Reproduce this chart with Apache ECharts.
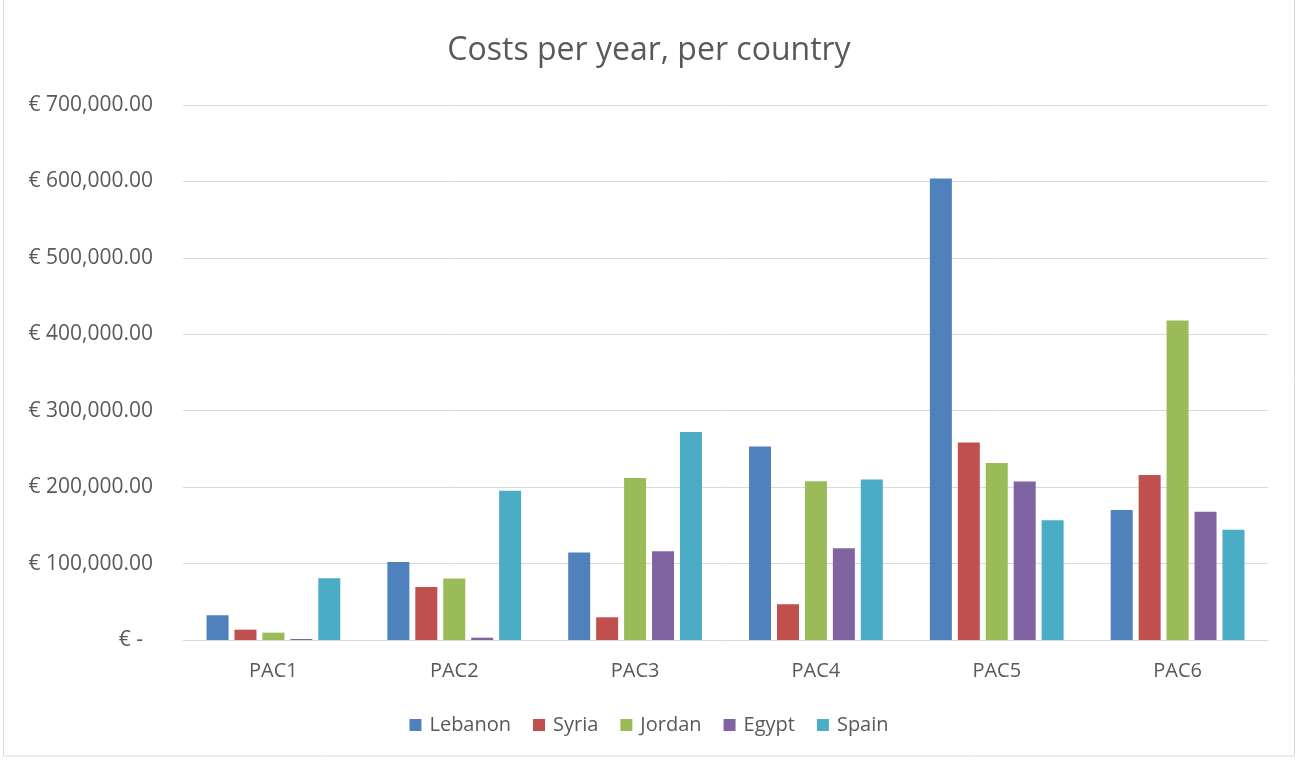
<!DOCTYPE html>
<html><head><meta charset="utf-8">
<script src="https://cdn.jsdelivr.net/npm/echarts@6/dist/echarts.min.js"></script>
<style>html,body{margin:0;padding:0;background:#fff}#c{width:1298px;height:761px}</style>
</head><body><div id="c"></div>
<script>
const categories = ['PAC1','PAC2','PAC3','PAC4','PAC5','PAC6'];
const lebanon = [32400, 102200, 114400, 253300, 603800, 170000];
const syria   = [13500, 69500, 29700, 46800, 258500, 215800];
const jordan  = [9600, 80400, 211800, 207800, 231500, 418000];
const egypt   = [1300, 3000, 116200, 120000, 207400, 167700];
const spain   = [80900, 195300, 272000, 209900, 156800, 144200];
const seriesNames = ['Lebanon','Syria','Jordan','Egypt','Spain'];
const colors = ['#4f81bd','#c0504d','#9bbb59','#8064a2','#4bacc6'];
const FONT = '"Open Sans", sans-serif';
const fmt = v => v === 0 ? '{z|€ -}' : '€ ' + v.toLocaleString('en-US',{minimumFractionDigits:2,maximumFractionDigits:2});
const chart = echarts.init(document.getElementById('c'), null, {renderer:'canvas'});
const dataSets = [lebanon, syria, jordan, egypt, spain];
chart.setOption({
  animation:false,
  color: colors,
  textStyle:{fontFamily:FONT},
  graphic:[{type:'rect', shape:{x:3.5,y:-2,width:1291,height:758}, style:{fill:'none',stroke:'#d9d9d9',lineWidth:1}, silent:true}],
  title:{text:'Costs per year, per country', left:'center', top:30, textStyle:{fontFamily:FONT,fontSize:32,fontWeight:'normal',color:'#595959'}},
  grid:{left:183, right:30, top:105, bottom:121, containLabel:false},
  legend:{bottom:21, left:'center', itemWidth:12, itemHeight:12, itemGap:22, icon:'rect',
    textStyle:{fontFamily:FONT,fontSize:20,color:'#595959',padding:[0,0,0,3]}, data:seriesNames},
  xAxis:{type:'category', data:categories,
    axisLine:{lineStyle:{color:'#d9d9d9'}}, axisTick:{show:false},
    axisLabel:{fontFamily:FONT,fontSize:20,color:'#595959',margin:21}},
  yAxis:{type:'value', min:0, max:700000, interval:100000,
    axisLine:{show:false}, axisTick:{show:false},
    splitLine:{lineStyle:{color:'#d9d9d9',width:1}},
    axisLabel:{formatter:fmt, fontFamily:FONT, fontSize:21, color:'#595959', margin:30,
      rich:{z:{fontFamily:FONT,fontSize:21,color:'#595959',padding:[0,10,0,0]}}}},
  series: seriesNames.map((n,i)=>({name:n, type:'bar', data:dataSets[i], barWidth:22, barGap:'27%'}))
});
</script></body></html>
